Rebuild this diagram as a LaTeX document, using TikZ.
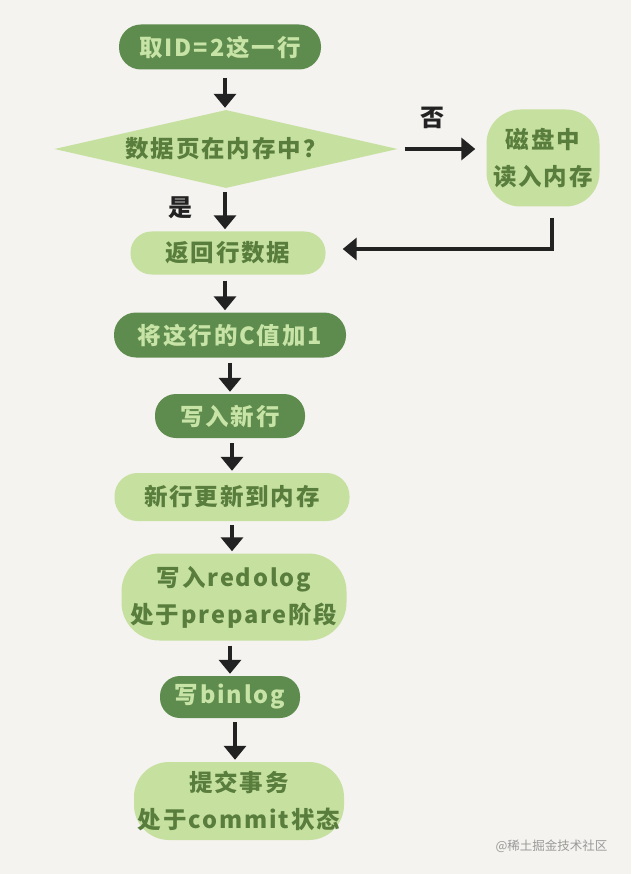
\documentclass[tikz,border=0pt]{standalone}
\usepackage{fontspec}
\setmainfont{Noto Sans CJK SC}
\newfontfamily\hand{Noto Sans CJK SC}[LetterSpace=8]
\usetikzlibrary{arrows.meta,shapes.geometric}
\definecolor{bg}{HTML}{F4F3EF}
\definecolor{dk}{HTML}{5E8C4E}
\definecolor{lt}{HTML}{C6E0A0}
\definecolor{dktxt}{HTML}{C8E3A6}
\definecolor{lttxt}{HTML}{587D3C}
\definecolor{ink}{HTML}{222222}
\begin{document}
\begin{tikzpicture}[x=1pt,y=-1pt,
  base/.style={inner sep=0pt,align=center,font=\hand\bfseries\fontsize{23.5}{37}\selectfont},
  dark/.style={base,fill=dk,text=dktxt},
  light/.style={base,fill=lt,text=lttxt},
  arr/.style={line width=4.2pt,draw=ink,shorten >=2pt,-{Triangle[length=14pt,width=22pt]}},
  lab/.style={text=ink,font=\bfseries\fontsize{24}{26}\selectfont}]
\fill[bg] (0,0) rectangle (631,874);
\useasboundingbox (0,0) rectangle (631,874);

\node[dark,minimum width=202pt,minimum height=45pt,rounded corners=22pt] (n1) at (220,47) {取ID=2这一行};
\node[light,diamond,shape aspect=4.4,minimum width=343pt,minimum height=78pt] (d) at (226,149) {数据页在内存中？};
\node[light,minimum width=113pt,minimum height=97pt,rounded corners=34pt] (disk) at (543,158) {磁盘中\\读入内存};
\node[light,minimum width=195pt,minimum height=43pt,rounded corners=21pt] (ret) at (228,253) {返回行数据};
\node[dark,minimum width=232pt,minimum height=45pt,rounded corners=22pt] (n4) at (230,335) {将这行的C值加1};
\node[dark,minimum width=150pt,minimum height=44pt,rounded corners=21pt] (n5) at (230,416) {写入新行};
\node[light,minimum width=235pt,minimum height=48pt,rounded corners=23pt] (n6) at (232,497) {新行更新到内存};
\node[light,minimum width=225pt,minimum height=87pt,rounded corners=38pt] (n7) at (234,597) {写入redolog\\处于prepare阶段};
\node[dark,minimum width=140pt,minimum height=42pt,rounded corners=20pt] (n8) at (230,697) {写binlog};
\node[light,minimum width=210pt,minimum height=78pt,rounded corners=35pt] (n9) at (239,801) {提交事务\\处于commit状态};

\node[lab] (no) at (432,118) {否};
\node[lab] (yes) at (180,208) {是};
\node[text=black!40,font=\fontsize{12.5}{14}\selectfont,anchor=east] (wm) at (611,846) {@稀土掘金技术社区};

\draw[arr] ([xshift=5pt,yshift=-8pt]n1.south) -- ([xshift=5pt]n1.south |- d.north);
\draw[arr] ([xshift=7pt]d.east) -- ([xshift=-9pt]d.east -| disk.west);
\draw[arr] ([xshift=9pt,yshift=-11pt]disk.south) |- ([xshift=15pt,yshift=4pt]ret.east);
\draw[arr] ([xshift=-1pt,yshift=-4pt]d.south) -- ([xshift=-1pt]d.south |- ret.north);
\draw[arr] ([xshift=-3pt,yshift=-6pt]ret.south) -- ([xshift=-3pt]ret.south |- n4.north);
\draw[arr] ([yshift=-5pt]n4.south) -- (n4.south |- n5.north);
\draw[arr] ([xshift=2pt,yshift=-5pt]n5.south) -- ([xshift=2pt]n5.south |- n6.north);
\draw[arr] ([yshift=-4pt]n6.south) -- (n6.south |- n7.north);
\draw[arr] ([xshift=-4pt,yshift=-5pt]n7.south) -- ([xshift=-4pt]n7.south |- n8.north);
\draw[arr] ([xshift=5pt,yshift=-4pt]n8.south) -- ([xshift=5pt]n8.south |- n9.north);
\end{tikzpicture}
\end{document}
